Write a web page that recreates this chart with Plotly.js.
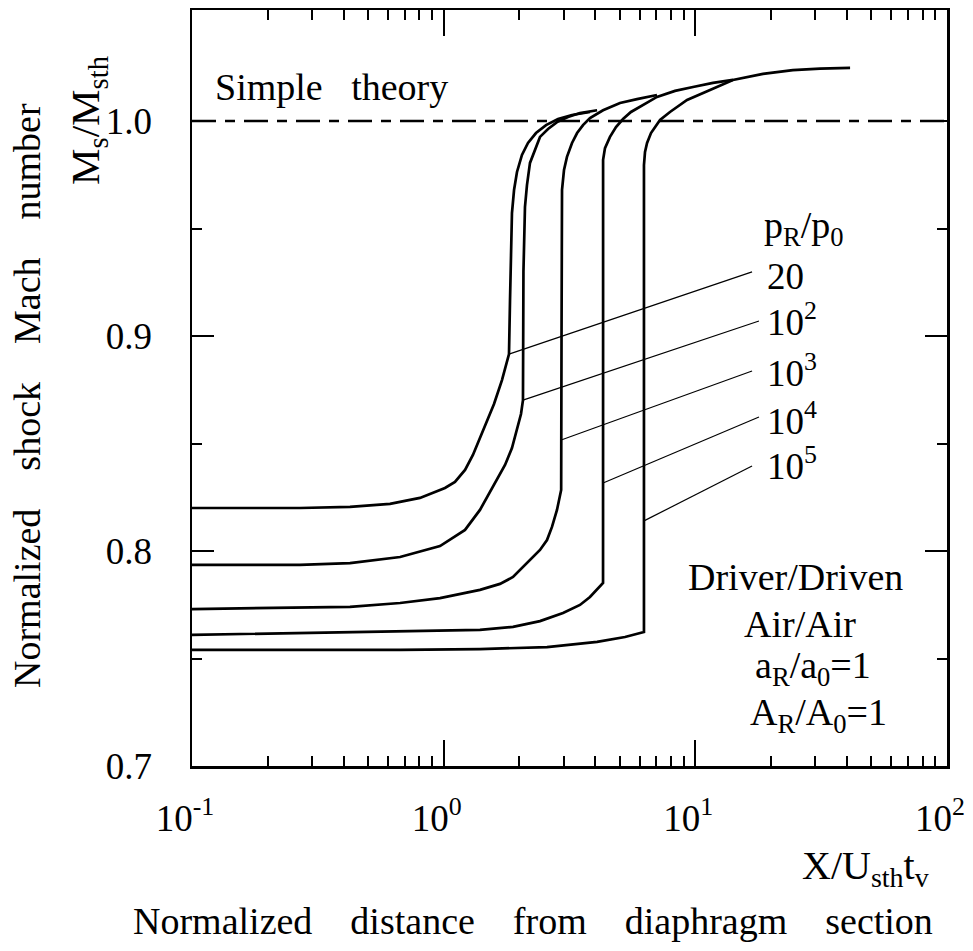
<!DOCTYPE html>
<html>
<head>
<meta charset="utf-8">
<script src="https://cdn.plot.ly/plotly-3.0.1.min.js"></script>
<style>
  html, body { margin: 0; padding: 0; background: #ffffff; }
  #chart { width: 973px; height: 951px; }
</style>
</head>
<body>
<div id="chart"></div>
<script>
// Normalized shock Mach number M_s/M_sth against X/(U_sth t_v)
// for five driver/driven pressure ratios p_R/p_0 (Air/Air).

const ratioLabels = ['20', '10<sup>2</sup>', '10<sup>3</sup>', '10<sup>4</sup>', '10<sup>5</sup>'];

// p_R/p_0 = 20
const x20 = [0.1, 0.2686, 0.4244, 0.612, 0.805, 1.012, 1.109, 1.216, 1.307, 1.394, 1.487, 1.585, 1.705, 1.769, 1.818,
             1.835, 1.851, 1.868, 1.904, 1.956, 2.047, 2.163, 2.327, 2.551, 2.847, 3.236, 3.814];
const m20 = [0.820, 0.820, 0.8205, 0.8219, 0.8247, 0.8293, 0.8321, 0.8377, 0.8447, 0.8526, 0.860, 0.8684, 0.8795, 0.886, 0.8916,
             0.9167, 0.940, 0.9572, 0.9679, 0.9763, 0.9842, 0.9898, 0.9944, 0.9981, 1.0009, 1.0028, 1.0042];

// p_R/p_0 = 10^2
const x1e2 = [0.1, 0.2686, 0.4244, 0.671, 0.967, 1.216, 1.394, 1.50, 1.599, 1.753, 1.868, 1.956, 2.029, 2.066,
              2.075, 2.104, 2.143, 2.203, 2.306, 2.414, 2.598, 2.82, 3.119, 3.48, 4.07];
const m1e2 = [0.7935, 0.7935, 0.7944, 0.7972, 0.8023, 0.8098, 0.8191, 0.8256, 0.8316, 0.840, 0.8479, 0.8563, 0.8637, 0.8702,
              0.930, 0.960, 0.9702, 0.9805, 0.9865, 0.9926, 0.9963, 0.9995, 1.0019, 1.0037, 1.005];

// p_R/p_0 = 10^3
const x1e3 = [0.1, 0.2686, 0.4244, 0.671, 0.967, 1.394, 1.674, 1.886, 2.203, 2.414, 2.574, 2.694, 2.82, 2.93,
              2.94, 2.953, 3.007, 3.09, 3.236, 3.39, 3.578, 3.814, 4.298, 5.02, 5.865, 7.04];
const m1e3 = [0.773, 0.7735, 0.774, 0.7758, 0.7781, 0.7819, 0.7847, 0.7879, 0.7958, 0.8005, 0.8051, 0.8112, 0.8191, 0.8284,
              0.900, 0.968, 0.9772, 0.9833, 0.9898, 0.9944, 0.9981, 1.0014, 1.005, 1.0084, 1.0102, 1.0121];

// p_R/p_0 = 10^4
const x1e4 = [0.1, 0.2686, 0.671, 1.394, 1.886, 2.414, 2.98, 3.48, 3.814, 4.069, 4.298,
              4.30, 4.30, 4.375, 4.58, 4.839, 5.16, 5.55, 6.03, 6.485, 7.04, 8.304, 9.79, 11.75, 14.1];
const m1e4 = [0.761, 0.7619, 0.7628, 0.7633, 0.7647, 0.7674, 0.7712, 0.7749, 0.7786, 0.7819, 0.7851,
              0.900, 0.9819, 0.9874, 0.9926, 0.9972, 1.0009, 1.0042, 1.0065, 1.0088, 1.0112, 1.014, 1.0158, 1.0177, 1.0191];

// p_R/p_0 = 10^5
const x1e5 = [0.1, 0.2686, 0.671, 1.394, 2.574, 4.07, 5.254, 6.25,
              6.25, 6.25, 6.31, 6.43, 6.665, 6.98, 7.24, 7.93, 9.27, 11.44, 14.1, 18.57, 24.4, 31.3, 41.2];
const m1e5 = [0.754, 0.754, 0.754, 0.7544, 0.7553, 0.7577, 0.760, 0.7623,
              0.900, 0.9795, 0.9856, 0.9898, 0.9944, 0.9981, 1.0005, 1.0042, 1.0098, 1.0144, 1.0191, 1.0219, 1.0237, 1.0244, 1.0247];

// Simple theory reference level
const theoryX = [0.1, 100];
const theoryM = [1.0, 1.0];

// Label leader lines: from a point on each curve out to its ratio label
const leaderFromX = [1.818, 2.066, 2.93, 4.30, 6.25];
const leaderFromM = [0.8916, 0.8702, 0.8516, 0.8316, 0.814];
const leaderToX = [16.8, 17.9, 16.8, 17.9, 16.8];
const leaderToM = [0.9298, 0.907, 0.8837, 0.8623, 0.8395];

// Axis ticks
const xTickVals = [0.1, 1, 10, 100];
const xTickText = ['10<sup>-1</sup>', '10<sup>0</sup>', '10<sup>1</sup>', '10<sup>2</sup>'];
const yTickVals = [0.7, 0.8, 0.9, 1.0];
const yTickText = ['0.7', '0.8', '0.9', '1.0'];
const yMinorVals = [0.75, 0.85, 0.95];

const xMinorVals = [];
[0.1, 1, 10].forEach(function (dec) {
  for (let k = 2; k <= 9; k++) xMinorVals.push(+(dec * k).toPrecision(3));
});

const FONT = 'Liberation Serif';
const INK = '#000000';
const GAP = '\u00a0\u00a0\u00a0\u00a0';

const curveXs = [x20, x1e2, x1e3, x1e4, x1e5];
const curveMs = [m20, m1e2, m1e3, m1e4, m1e5];

const traces = [];
curveXs.forEach(function (xs, i) {
  traces.push({
    x: xs, y: curveMs[i], type: 'scatter', mode: 'lines',
    line: { color: INK, width: 2.7, shape: 'linear' },
    name: ratioLabels[i], showlegend: false, hoverinfo: 'skip'
  });
});
traces.push({
  x: theoryX, y: theoryM, type: 'scatter', mode: 'lines',
  line: { color: INK, width: 2.4, dash: '24px,9px,10px,9px' },
  showlegend: false, hoverinfo: 'skip'
});
leaderFromX.forEach(function (fx, i) {
  traces.push({
    x: [fx, leaderToX[i]], y: [leaderFromM[i], leaderToM[i]],
    type: 'scatter', mode: 'lines',
    line: { color: INK, width: 1.2 },
    showlegend: false, hoverinfo: 'skip'
  });
});

// plot box in page pixels
const L = 192, T = 10, W = 755, H = 756;
function note(text, xPx, yPx, xanchor, size, extra) {
  const a = {
    xref: 'paper', yref: 'paper',
    x: (xPx - L) / W, y: (T + H - yPx) / H,
    text: text, showarrow: false,
    xanchor: xanchor, yanchor: 'middle',
    font: { family: FONT, size: size, color: INK }
  };
  return Object.assign(a, extra || {});
}

const annotations = [
  note('Simple\u00a0\u00a0\u00a0theory', 213, 87, 'left', 38),
  note('p<sub>R</sub>/p<sub>0</sub>', 762, 228, 'left', 38),
  note(ratioLabels[0], 765, 276, 'left', 37),
  note(ratioLabels[1], 765, 320, 'left', 37),
  note(ratioLabels[2], 765, 370, 'left', 37),
  note(ratioLabels[3], 765, 419, 'left', 37),
  note(ratioLabels[4], 765, 464, 'left', 37),
  note('Driver/Driven', 795, 577, 'center', 38),
  note('Air/Air', 800, 624, 'center', 38),
  note('a<sub>R</sub>/a<sub>0</sub>=1', 813, 668, 'center', 38),
  note('A<sub>R</sub>/A<sub>0</sub>=1', 818, 715, 'center', 38),
  note('X/U<sub>sth</sub>t<sub>v</sub>', 931, 868, 'right', 40),
  note(['Normalized', 'distance', 'from', 'diaphragm', 'section'].join(GAP), 533, 921, 'center', 38),
  note(['Normalized', 'shock', 'Mach', 'number'].join(GAP), 27, 396, 'center', 38, { textangle: -90 }),
  note('M<sub>s</sub>/M<sub>sth</sub>', 88, 121, 'center', 41, { textangle: -90 })
];

const layout = {
  width: 973, height: 951,
  margin: { l: L, r: 973 - L - W, t: T, b: 951 - T - H, pad: 0 },
  paper_bgcolor: '#ffffff', plot_bgcolor: '#ffffff',
  showlegend: false,
  font: { family: FONT, color: INK },
  xaxis: {
    type: 'log', range: [-1, 2],
    showline: true, linecolor: INK, linewidth: 2.5, mirror: 'allticks',
    showgrid: false, zeroline: false,
    ticks: 'inside', ticklen: 26, tickwidth: 2.2, tickcolor: INK,
    tickmode: 'array', tickvals: xTickVals, ticktext: xTickText,
    tickfont: { family: FONT, size: 37, color: INK },
    ticklabelstandoff: 18, ticklabelshift: -7,
    minor: { ticks: 'inside', ticklen: 10, tickwidth: 2, tickcolor: INK,
             tickmode: 'array', tickvals: xMinorVals, showgrid: false }
  },
  yaxis: {
    range: [0.7, 0.7 + H / 2150],
    showline: true, linecolor: INK, linewidth: 2.5, mirror: 'allticks',
    showgrid: false, zeroline: false,
    ticks: 'inside', ticklen: 22, tickwidth: 2.2, tickcolor: INK,
    tickmode: 'array', tickvals: yTickVals, ticktext: yTickText,
    tickfont: { family: FONT, size: 37, color: INK },
    ticklabelstandoff: 30,
    minor: { ticks: 'inside', ticklen: 10, tickwidth: 2, tickcolor: INK,
             tickmode: 'array', tickvals: yMinorVals, showgrid: false }
  },
  annotations: annotations
};

Plotly.newPlot('chart', traces, layout, { staticPlot: true, displayModeBar: false });
</script>
</body>
</html>
